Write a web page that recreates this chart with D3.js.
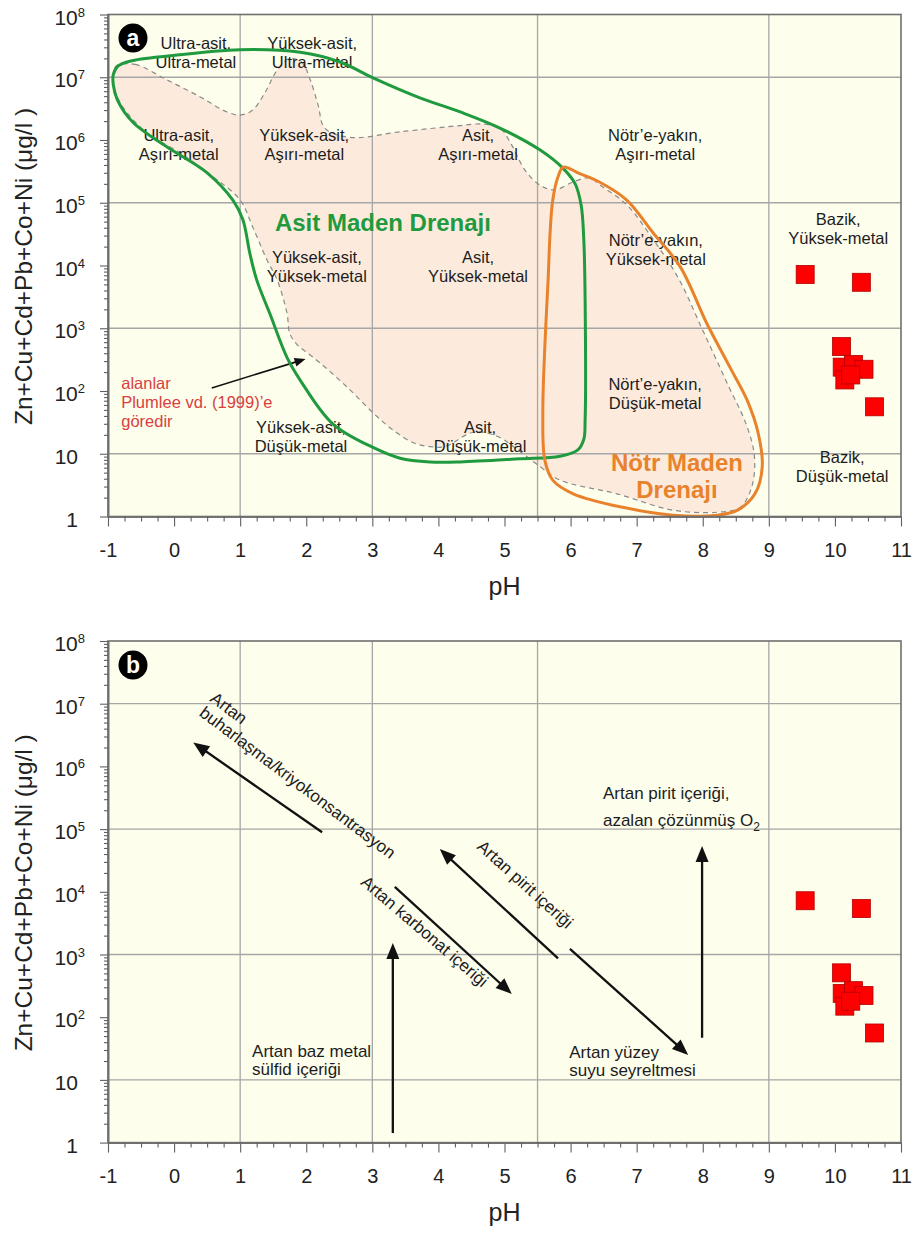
<!DOCTYPE html>
<html><head><meta charset="utf-8">
<script src="https://cdn.jsdelivr.net/npm/d3@7"></script>
<style>body{margin:0;background:#fff}svg{display:block}text{font-family:"Liberation Sans",Arial,Helvetica,sans-serif}</style>
</head><body><svg id="c" width="916" height="1236"></svg>
<script>
// ---------- DATA ----------
const xTicks = [-1,0,1,2,3,4,5,6,7,8,9,10,11];
const yDecades = [1,10,1e2,1e3,1e4,1e5,1e6,1e7,1e8];
const xGrid = [1,3,5.5,9];
const yGrid = [10,1e3,1e5,1e7];

// samples (pH, Zn+Cu+Cd+Pb+Co+Ni µg/l)
const samplePH  = [9.55, 10.40, 10.10, 10.11, 10.28, 10.44, 10.15, 10.24, 10.60];
const sampleVal = [7200, 5400, 510, 240, 265, 222, 150, 180, 56];

// Asit Maden Drenajı field (green)
const acidPH  = [-0.92,-0.85,-0.67,-0.06,1.00,1.91,2.51,3.01,3.72,4.33,4.93,5.54,5.89,6.07,6.16,6.20,6.22,6.22,6.20,6.11,5.84,5.23,4.33,3.87,3.42,3.01,2.40,1.91,1.71,1.45,1.25,1.15,1.04,0.89,0.50,-0.11,-0.62,-0.86,-0.92];
const acidVal = [1.1e7,1.5e7,1.8e7,2.2e7,2.75e7,2.5e7,1.75e7,9.8e6,4.7e6,2.8e6,1.55e6,6.9e5,3.5e5,2.0e5,9.1e4,2.6e4,2.8e3,35,17,11.5,9.1,8.3,7.4,7.4,8.5,12.6,30,148,340,1700,5900,1.5e4,5.4e4,1.1e5,3.0e5,7.8e5,1.9e6,4.4e6,7.6e6];

// Nötr Maden Drenajı field (orange)
const neutPH  = [5.89,6.14,6.45,6.85,7.25,7.66,8.06,8.41,8.67,8.84,8.90,8.79,8.52,8.22,7.55,6.79,6.04,5.73,5.61,5.58,5.61,5.66,5.69,5.73,5.81];
const neutVal = [3.7e5,2.9e5,2.1e5,1.1e5,3.3e4,9.5e3,1.2e3,240,72,21,6.2,2.3,1.25,1.05,1.05,1.4,2.3,3.8,7.9,45,500,5.9e3,3.3e4,1.1e5,2.6e5];

// Plumlee et al. (1999) fields envelope (dashed, shaded)
const plumPH  = [-0.88,-0.59,-0.11,0.39,0.80,1.00,1.19,1.38,1.56,1.75,1.94,2.06,2.18,2.28,2.66,3.42,4.33,4.68,4.93,5.11,5.31,5.54,5.76,6.02,6.29,6.45,6.85,7.25,7.63,8.00,8.38,8.66,8.78,8.75,8.57,8.22,7.55,6.70,5.84,5.54,5.24,4.89,4.53,4.10,3.87,3.62,3.31,3.01,2.62,2.21,2.01,1.86,1.75,1.71,1.56,1.41,1.19,1.00,0.59,0.09,-0.41,-0.71,-0.86,-0.92];
const plumVal = [1.5e7,1.6e7,9.1e6,4.9e6,2.8e6,2.5e6,3.0e6,5.8e6,1.3e7,2.0e7,1.7e7,9.1e6,3.6e6,1.55e6,1.1e6,1.35e6,1.7e6,1.8e6,1.55e6,8.3e5,3.3e5,1.9e5,1.6e5,2.1e5,2.5e5,1.9e5,9.3e4,2.6e4,6.3e3,930,126,29,9.5,3.2,1.4,1.17,1.26,2.3,3.8,6.2,10.7,19,22,13,13,15,24,45,115,280,410,550,830,1700,5900,1.2e4,4.1e4,1.1e5,2.6e5,6.2e5,1.3e6,2.7e6,4.9e6,8.5e6];

// region labels of panel a: text lines, anchor pH, anchor log10(value)
const regionText = [
  ["Ultra-asit,","Ultra-metal"], ["Yüksek-asit,","Ultra-metal"],
  ["Ultra-asit,","Aşırı-metal"], ["Yüksek-asit,","Aşırı-metal"], ["Asit,","Aşırı-metal"], ["Nötr’e-yakın,","Aşırı-metal"],
  ["Bazik,","Yüksek-metal"], ["Yüksek-asit,","Yüksek-metal"], ["Asit,","Yüksek-metal"], ["Nötr’e-yakın,","Yüksek-metal"],
  ["Yüksek-asit,","Düşük-metal"], ["Asit,","Düşük-metal"], ["Nört’e-yakın,","Düşük-metal"], ["Bazik,","Düşük-metal"]
];
const regionPH  = [0.33, 2.09, 0.07, 1.97, 4.60, 7.28, 10.05, 2.16, 4.60, 7.29, 1.92, 4.63, 7.28, 10.11];
const regionExp = [7.45, 7.45, 5.98, 5.98, 5.98, 5.98, 4.645, 4.04, 4.04, 4.31, 1.33, 1.33, 2.02, 0.85];

const noteText = ["alanlar","Plumlee vd. (1999)’e","göredir"];
const notePos = [-0.80, 2.03];
const noteArrowPH = [0.57, 1.99], noteArrowVal = [112, 324];

// panel b trend arrows
const trendFromPH  = [2.24, 3.34, 5.81, 5.99, 7.99, 3.31];
const trendFromVal = [8.9e4, 1.2e4, 870, 1230, 47, 1.42];
const trendToPH    = [0.29, 5.11, 4.02, 7.78, 7.99, 3.31];
const trendToVal   = [2.4e6, 235, 4.8e4, 25, 5.4e4, 1520];

// panel b trend texts
const trendText = [
  ["Artan","buharlaşma/kriyokonsantrasyon"],
  ["Artan karbonat içeriği"],
  ["Artan pirit içeriği"],
  ["Artan yüzey","suyu seyreltmesi"],
  ["Artan pirit içeriği,","azalan çözünmüş O"],
  ["Artan baz metal","sülfid içeriği"]
];
const trendTextPH  = [0.53, 2.81, 4.57, 5.98, 6.49, 1.18];
const trendTextExp = [7.05, 4.13, 4.70, 1.35, 5.48, 1.37];
const trendTextRot = [37, 40.5, 42, 0, 0, 0];
const trendTextGap = [18, 18, 18, 18, 27, 18];

// ---------- DRAW ----------
const svg = d3.select('#c');
const x = d3.scaleLinear().domain([-1, 11]).range([108, 901]);
const panels = [{id:'a', top:14.5, bottom:516.5}, {id:'b', top:641, bottom:1142.6}];
const minorX = d3.range(-1, 11.001, 0.25).filter(v => Math.abs(v - Math.round(v)) > 1e-6);
const minorY = [];
for (let e = 0; e < 8; e++) for (let m = 2; m <= 9; m++) minorY.push(m * Math.pow(10, e));

const C = {bg:'#fefeec', peach:'#fcebdc', grid:'#a6a6a6', frame:'#6f6f6f', green:'#1f9a3e', orange:'#e9822c', red:'#ff0000', txt:'#1c1c1c', note:'#d8403f'};
const catm = d3.curveCatmullRomClosed.alpha(0.5);

panels.forEach((p, pi) => {
  const y = d3.scaleLog().domain([1, 1e8]).range([p.bottom, p.top]);
  const g = svg.append('g');
  g.append('rect').attr('x', x(-1)).attr('y', p.top).attr('width', x(11) - x(-1)).attr('height', p.bottom - p.top).attr('fill', C.bg);

  const lineGen = d3.line().x(d => x(d[0])).y(d => y(d[1])).curve(catm);

  if (pi === 0) {
    g.append('path').datum(plumPH.map((v, i) => [v, plumVal[i]])).attr('d', lineGen)
      .attr('fill', C.peach).attr('stroke', 'none');
  }
  // grid
  g.selectAll('.gx').data(xGrid).join('line').attr('x1', d => x(d)).attr('x2', d => x(d))
    .attr('y1', p.top).attr('y2', p.bottom).attr('stroke', C.grid).attr('stroke-width', 1.3);
  g.selectAll('.gy').data(yGrid).join('line').attr('y1', d => y(d)).attr('y2', d => y(d))
    .attr('x1', x(-1)).attr('x2', x(11)).attr('stroke', C.grid).attr('stroke-width', 1.3);

  if (pi === 0) {
    g.append('path').datum(plumPH.map((v, i) => [v, plumVal[i]])).attr('d', lineGen)
      .attr('fill', 'none').attr('stroke', '#8a8a8a').attr('stroke-width', 1.2).attr('stroke-dasharray', '5,4');
    // region labels
    regionText.forEach((lines, i) => {
      const t = g.append('text').attr('x', x(regionPH[i])).attr('y', y(Math.pow(10, regionExp[i])))
        .attr('text-anchor', 'middle').attr('font-size', 16.5).attr('fill', C.txt);
      lines.forEach((l, j) => t.append('tspan').attr('x', x(regionPH[i])).attr('dy', j ? 19 : 0).text(l));
    });
    const nt = g.append('text').attr('x', x(notePos[0])).attr('y', y(Math.pow(10, notePos[1])))
      .attr('font-size', 16.5).attr('fill', C.note);
    noteText.forEach((l, j) => nt.append('tspan').attr('x', x(notePos[0])).attr('dy', j ? 19 : 0).text(l));
    drawArrow(g, x(noteArrowPH[0]), y(noteArrowVal[0]), x(noteArrowPH[1]), y(noteArrowVal[1]), 11, 4.5, 1.6);

    g.append('path').datum(acidPH.map((v, i) => [v, acidVal[i]])).attr('d', lineGen)
      .attr('fill', 'none').attr('stroke', C.green).attr('stroke-width', 3);
    g.append('path').datum(neutPH.map((v, i) => [v, neutVal[i]])).attr('d', lineGen)
      .attr('fill', 'none').attr('stroke', C.orange).attr('stroke-width', 3);

    g.append('text').attr('x', x(3.16)).attr('y', y(Math.pow(10, 4.55))).attr('text-anchor', 'middle')
      .attr('font-size', 24).attr('font-weight', 'bold').attr('fill', C.green).text('Asit Maden Drenajı');
    const on = g.append('text').attr('x', x(7.61)).attr('y', y(Math.pow(10, 0.73))).attr('text-anchor', 'middle')
      .attr('font-size', 24).attr('font-weight', 'bold').attr('fill', C.orange);
    ['Nötr Maden', 'Drenajı'].forEach((l, j) => on.append('tspan').attr('x', x(7.61)).attr('dy', j ? 27 : 0).text(l));
  } else {
    trendFromPH.forEach((v, i) => drawArrow(g, x(v), y(trendFromVal[i]), x(trendToPH[i]), y(trendToVal[i]), 16, 6.5, 2.3));
    trendText.forEach((lines, i) => {
      const ax = x(trendTextPH[i]), ay = y(Math.pow(10, trendTextExp[i]));
      const t = g.append('text').attr('transform', `translate(${ax},${ay}) rotate(${trendTextRot[i]})`)
        .attr('font-size', 17).attr('fill', C.txt);
      lines.forEach((l, j) => t.append('tspan').attr('x', 0).attr('dy', j ? trendTextGap[i] : 0).text(l));
      if (i === 4) t.append('tspan').attr('font-size', 12).attr('dy', 5).text('2');
    });
  }

  // samples
  g.selectAll('.s').data(samplePH.map((v, i) => [v, sampleVal[i]])).join('rect')
    .attr('x', d => x(d[0]) - 9).attr('y', d => y(d[1]) - 9).attr('width', 18).attr('height', 18)
    .attr('fill', C.red).attr('stroke', '#b00000').attr('stroke-width', 0.8);

  // frame
  g.append('rect').attr('x', x(-1)).attr('y', p.top).attr('width', x(11) - x(-1)).attr('height', p.bottom - p.top)
    .attr('fill', 'none').attr('stroke', C.frame).attr('stroke-width', 1.6);

  // axes
  const axB = g.append('g').attr('transform', `translate(0,${p.bottom})`)
    .call(d3.axisBottom(x).tickValues(xTicks).tickSize(10).tickSizeOuter(0).tickPadding(16).tickFormat(d => String(d)));
  const axBm = g.append('g').attr('transform', `translate(0,${p.bottom})`)
    .call(d3.axisBottom(x).tickValues(minorX).tickSize(5).tickSizeOuter(0).tickFormat(''));
  const axL = g.append('g').attr('transform', `translate(${x(-1)},0)`)
    .call(d3.axisLeft(y).tickValues(yDecades).tickSize(8).tickSizeOuter(0).tickFormat(''));
  const axLm = g.append('g').attr('transform', `translate(${x(-1)},0)`)
    .call(d3.axisLeft(y).tickValues(minorY).tickSize(4).tickSizeOuter(0).tickFormat(''));
  [axB, axBm, axL, axLm].forEach(a => {
    a.select('.domain').attr('stroke', C.frame).attr('stroke-width', 1.6);
    a.selectAll('.tick line').attr('stroke', '#606060').attr('stroke-width', 1.1);
  });
  axB.selectAll('.tick text').attr('font-size', 20).attr('fill', '#222').attr('font-family', '"Liberation Sans",Arial,sans-serif');

  // y labels with superscripts
  yDecades.forEach(v => {
    const e = Math.round(Math.log10(v));
    const t = g.append('text').attr('text-anchor', 'end').attr('font-size', 21).attr('fill', '#222')
      .attr('y', y(v) + 10);
    if (e <= 1) { t.attr('x', 78).text(String(v)); }
    else { t.attr('x', 85); t.append('tspan').text('10'); t.append('tspan').attr('dy', -8).attr('font-size', 13).text(String(e)); }
  });

  // axis titles
  g.append('text').attr('x', (x(-1) + x(11)) / 2).attr('y', p.bottom + 78.5).attr('text-anchor', 'middle')
    .attr('font-size', 25).attr('fill', '#222').text('pH');
  g.append('text').attr('transform', `translate(32,${(p.top + p.bottom) / 2 + 1}) rotate(-90)`)
    .attr('text-anchor', 'middle').attr('font-size', 24.5).attr('fill', '#222').text('Zn+Cu+Cd+Pb+Co+Ni (μg/l )');

  // panel letter
  const cy = pi === 0 ? 38 : 665;
  g.append('circle').attr('cx', 133).attr('cy', cy).attr('r', 14.5).attr('fill', '#000');
  g.append('text').attr('x', 133).attr('y', cy + 7.5).attr('text-anchor', 'middle').attr('font-size', 23)
    .attr('font-weight', 'bold').attr('fill', '#fff').text(p.id);
});

function drawArrow(g, x1, y1, x2, y2, hl, hw, sw) {
  const dx = x2 - x1, dy = y2 - y1, L = Math.hypot(dx, dy), ux = dx / L, uy = dy / L;
  const bx = x2 - ux * hl, by = y2 - uy * hl;
  g.append('line').attr('x1', x1).attr('y1', y1).attr('x2', bx + ux * 2).attr('y2', by + uy * 2)
    .attr('stroke', '#111').attr('stroke-width', sw);
  g.append('path').attr('d', `M${x2},${y2}L${bx - uy * hw},${by + ux * hw}L${bx + uy * hw},${by - ux * hw}Z`).attr('fill', '#111');
}
</script></body></html>
